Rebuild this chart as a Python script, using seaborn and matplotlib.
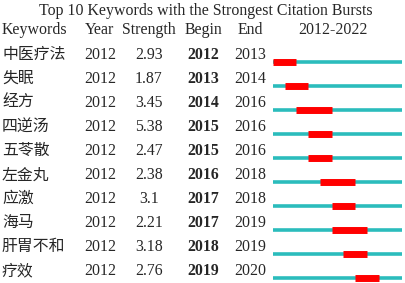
import matplotlib
matplotlib.use("Agg")
from matplotlib import pyplot as plt
from matplotlib.transforms import blended_transform_factory
import seaborn as sns

keywords = ["中医疗法", "失眠", "经方", "四逆汤", "五苓散", "左金丸", "应激", "海马", "肝胃不和", "疗效"]
years = [2012] * 10
strengths = ["2.93", "1.87", "3.45", "5.38", "2.47", "2.38", "3.1", "2.21", "3.18", "2.76"]
begins = [2012, 2013, 2014, 2015, 2015, 2016, 2017, 2017, 2018, 2019]
ends = [2013, 2014, 2016, 2016, 2016, 2018, 2018, 2019, 2019, 2020]
headers = ["Keywords", "Year", "Strength", "Begin", "End", "2012-2022"]
title = "Top 10 Keywords with the Strongest Citation Bursts"
YEAR_MIN, YEAR_MAX = 2012, 2022

sns.set_theme(style="white")
plt.rcParams['font.family'] = ['Liberation Serif', 'Noto Sans CJK SC']

fig = plt.figure(figsize=(4.05, 2.83), dpi=100)
ax = fig.add_axes([273 / 405, 0, 129 / 405, 1])
ax.set_xlim(YEAR_MIN, YEAR_MAX + 1)
ax.set_ylim(9.21, -2.58)
ax.axis("off")

rows = list(range(len(keywords)))
# timeline: background line over all years, red segment for burst (inclusive)
ax.hlines(rows, YEAR_MIN, YEAR_MAX + 1, color="#2bbcbc", lw=2.6, zorder=1)
ax.hlines(rows, begins, [e + 1 for e in ends], color="#ff0000", lw=5, zorder=2)

tr = blended_transform_factory(fig.transFigure, ax.transData)
fs = 11.4
col_x = [2 / 405, 100 / 405, 149 / 405, 203 / 405, 250 / 405, 333 / 405]

ax.text(206 / 405, -2.12, title, transform=tr, ha="center", va="center", fontsize=fs)
for j, h in enumerate(headers):
    ax.text(col_x[j], -1.31, h, transform=tr,
            ha="left" if j == 0 else "center", va="center", fontsize=fs)

for i in rows:
    y = i - 0.3
    ax.text(col_x[0], y, keywords[i], transform=tr, ha="left", va="center",
            fontsize=fs, family=['Noto Sans CJK SC', 'Liberation Serif'], fontweight="light")
    ax.text(col_x[1], y, str(years[i]), transform=tr, ha="center", va="center", fontsize=fs)
    ax.text(col_x[2], y, strengths[i], transform=tr, ha="center", va="center", fontsize=fs)
    ax.text(col_x[3], y, str(begins[i]), transform=tr, ha="center", va="center",
            fontsize=fs, fontweight="bold")
    ax.text(col_x[4], y, str(ends[i]), transform=tr, ha="center", va="center", fontsize=fs)

fig.savefig("out.png", dpi=100, facecolor="white")
